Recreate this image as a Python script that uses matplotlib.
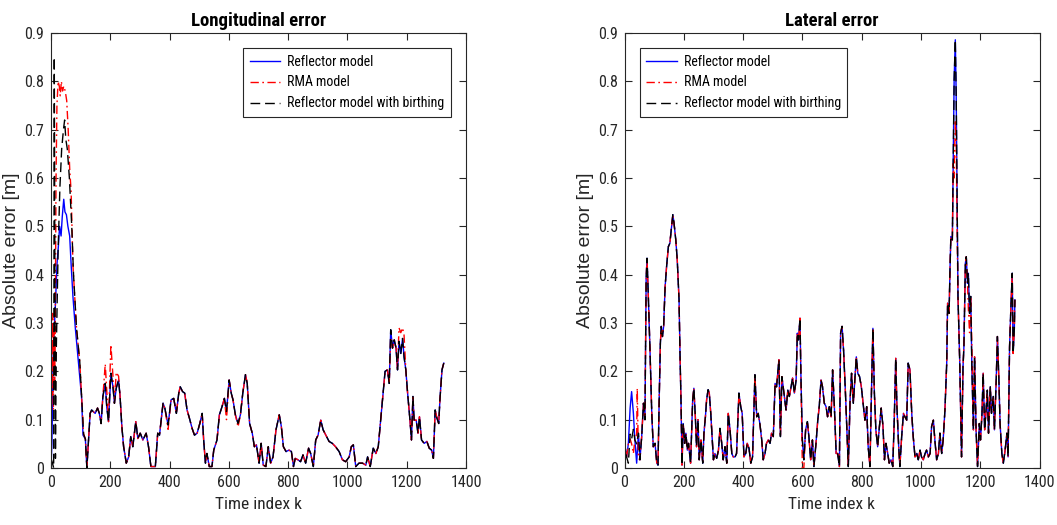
import matplotlib
matplotlib.use("Agg")
import matplotlib.pyplot as plt
from matplotlib import font_manager

# ---------------- data: longitudinal error ----------------
# shared tail (reflector model) from k = 121 on
lon_tail_k = [121, 132, 137, 149, 157, 163, 169, 175, 183, 188, 194, 202, 209, 214, 220, 228, 233, 239, 245, 254,
              262, 269, 276, 286, 293, 301, 310, 321, 329, 337, 352, 360, 366, 378, 384, 395, 405, 414, 423, 431,
              436, 444, 451, 459, 467, 476, 484, 493, 502, 510, 515, 521, 526, 534, 543, 549, 560, 568, 577, 585,
              592, 601, 608, 614, 622, 631, 639, 647, 656, 662, 670, 679, 686, 693, 702, 709, 716, 725, 733, 741,
              749, 759, 770, 777, 784, 793, 803, 811, 818, 824, 833, 842, 850, 859, 869, 876, 885, 893, 901, 910,
              918, 927, 938, 949, 960, 972, 983, 994, 1006, 1013, 1020, 1028, 1039, 1051, 1062, 1068, 1077, 1087,
              1096, 1104, 1113, 1122, 1127, 1135, 1141, 1146, 1152, 1158, 1164, 1169, 1174, 1180, 1186, 1191,
              1197, 1203, 1211, 1216, 1221, 1225, 1232, 1238, 1243, 1250, 1259, 1268, 1276, 1284, 1290, 1296,
              1302, 1308, 1312, 1319, 1325]
lon_tail_v = [0.0, 0.113, 0.12, 0.113, 0.124, 0.113, 0.092, 0.148, 0.175, 0.127, 0.096, 0.196, 0.168, 0.134, 0.165,
              0.182, 0.148, 0.086, 0.044, 0.01, 0.023, 0.065, 0.044, 0.096, 0.061, 0.072, 0.058, 0.072, 0.044, 0.003,
              0.003, 0.072, 0.068, 0.134, 0.124, 0.089, 0.141, 0.144, 0.113, 0.155, 0.168, 0.158, 0.155, 0.12, 0.103,
              0.082, 0.068, 0.072, 0.092, 0.113, 0.058, 0.01, 0.03, 0.003, 0.003, 0.037, 0.058, 0.11, 0.127, 0.144,
              0.117, 0.182, 0.155, 0.141, 0.11, 0.092, 0.11, 0.155, 0.193, 0.175, 0.092, 0.072, 0.044, 0.048, 0.01,
              0.051, 0.006, 0.003, 0.044, 0.01, 0.023, 0.079, 0.11, 0.086, 0.044, 0.034, 0.037, 0.034, 0.003, 0.02,
              0.017, 0.013, 0.027, 0.01, 0.041, 0.03, 0.003, 0.058, 0.068, 0.099, 0.079, 0.068, 0.055, 0.051, 0.044,
              0.034, 0.017, 0.013, 0.023, 0.044, 0.048, 0.003, 0.01, 0.01, 0.006, 0.023, 0.003, 0.041, 0.03, 0.044,
              0.106, 0.168, 0.2, 0.203, 0.175, 0.286, 0.248, 0.265, 0.248, 0.203, 0.262, 0.237, 0.268, 0.23, 0.203,
              0.155, 0.099, 0.058, 0.148, 0.099, 0.099, 0.072, 0.106, 0.058, 0.051, 0.055, 0.041, 0.037, 0.02, 0.12,
              0.103, 0.092, 0.141, 0.203, 0.217]

lon_ref_head_k = [0, 3, 8, 12, 15, 20, 25, 29, 34, 38, 43, 47, 52, 57, 63, 68, 74, 82, 91, 103, 108, 116]
lon_ref_head_v = [0.0, 0.05, 0.25, 0.30, 0.34, 0.42, 0.46, 0.50, 0.48, 0.52, 0.556, 0.53, 0.524, 0.50, 0.48,
                  0.42, 0.355, 0.29, 0.23, 0.148, 0.068, 0.06]

lon_rma_head_k = [0, 2, 4, 6, 8, 10, 12, 14, 17, 20, 24, 28, 31, 35, 39, 43, 48, 53, 58, 63, 68, 74, 86, 97,
                  104, 110, 116]
lon_rma_head_v = [0.02, 0.30, 0.15, 0.32, 0.12, 0.28, 0.18, 0.25, 0.60, 0.75, 0.80, 0.79, 0.77, 0.80, 0.78,
                  0.79, 0.78, 0.76, 0.70, 0.62, 0.57, 0.42, 0.29, 0.22, 0.14, 0.07, 0.06]
lon_rma_diff_k = [183, 188, 202, 209, 220, 228, 395, 592, 631, 1146, 1174, 1180, 1186, 1191, 1221]
lon_rma_diff_v = [0.215, 0.16, 0.255, 0.19, 0.198, 0.19, 0.08, 0.10, 0.085, 0.27, 0.29, 0.28, 0.29, 0.275, 0.15]

lon_birth_head_k = [0, 5, 9, 11, 13, 15, 18, 24, 30, 36, 42, 46, 50, 55, 62, 70, 76, 86, 97, 104, 110, 116]
lon_birth_head_v = [0.02, 0.01, 0.0, 0.85, 0.40, 0.02, 0.25, 0.45, 0.58, 0.66, 0.70, 0.72, 0.68, 0.66, 0.60,
                    0.50, 0.40, 0.29, 0.22, 0.14, 0.07, 0.06]

# ---------------- data: lateral error ----------------
lat_ref_k = [0, 2, 7, 13, 19, 24, 30, 35, 41, 47, 52, 58, 64, 69, 73, 76, 80, 86, 92, 97, 103, 109, 113, 117,
             121, 124, 128, 132, 137, 142, 148, 153, 159, 163, 167, 173, 178, 184, 187, 191, 194, 198, 203, 207,
             212, 216, 223, 230, 234, 239, 243, 248, 252, 258, 264, 268, 273, 277, 282, 286, 291, 295, 300, 305,
             311, 317, 322, 328, 333, 339, 345, 350, 356, 362, 367, 373, 378, 386, 392, 397, 403, 409, 414, 420,
             426, 432, 440, 446, 451, 457, 463, 468, 474, 479, 485, 491, 496, 502, 508, 513, 521, 526, 531, 538,
             545, 551, 556, 562, 567, 573, 579, 583, 587, 592, 595, 600, 605, 611, 617, 622, 628, 634, 639, 646,
             652, 657, 663, 668, 674, 680, 685, 691, 697, 702, 708, 714, 719, 725, 729, 734, 739, 745, 751, 755,
             761, 766, 772, 777, 782, 787, 793, 799, 806, 811, 817, 822, 828, 834, 838, 843, 848, 854, 860, 866,
             872, 877, 882, 888, 893, 899, 905, 910, 915, 919, 925, 929, 935, 941, 946, 952, 957, 963, 969, 974,
             980, 986, 991, 997, 1002, 1008, 1014, 1019, 1025, 1031, 1036, 1042, 1047, 1053, 1059, 1064, 1070,
             1075, 1081, 1087, 1090, 1095, 1098, 1101, 1106, 1109, 1112, 1116, 1119, 1122, 1125, 1131, 1137, 1142,
             1145, 1150, 1153, 1157, 1160, 1164, 1168, 1172, 1177, 1181, 1186, 1191, 1197, 1201, 1206, 1210, 1215,
             1219, 1224, 1228, 1234, 1238, 1244, 1248, 1254, 1258, 1263, 1267, 1273, 1278, 1284, 1290, 1294, 1299,
             1304, 1308, 1311, 1315, 1317]
lat_ref_v = [0.03, 0.044, 0.023, 0.05, 0.124, 0.158, 0.113, 0.058, 0.01, 0.072, 0.017, 0.065, 0.134, 0.10, 0.39,
             0.434, 0.362, 0.244, 0.113, 0.044, 0.051, 0.01, 0.006, 0.141, 0.258, 0.293, 0.272, 0.293, 0.375, 0.417,
             0.458, 0.465, 0.50, 0.524, 0.507, 0.472, 0.43, 0.348, 0.244, 0.127, 0.006, 0.092, 0.051, 0.072, 0.037,
             0.051, 0.01, 0.141, 0.165, 0.106, 0.044, 0.10, 0.017, 0.058, 0.01, 0.072, 0.106, 0.141, 0.162, 0.155,
             0.113, 0.072, 0.017, 0.03, 0.02, 0.037, 0.082, 0.051, 0.017, 0.044, 0.01, 0.113, 0.079, 0.03, 0.023,
             0.023, 0.03, 0.155, 0.127, 0.113, 0.023, 0.03, 0.051, 0.041, 0.01, 0.023, 0.193, 0.106, 0.113, 0.09,
             0.058, 0.017, 0.03, 0.051, 0.058, 0.051, 0.072, 0.065, 0.175, 0.168, 0.224, 0.065, 0.189, 0.155, 0.12,
             0.161, 0.148, 0.168, 0.186, 0.155, 0.182, 0.279, 0.265, 0.31, 0.196, 0.058, 0.017, 0.079, 0.096, 0.065,
             0.017, 0.058, 0.003, 0.051, 0.099, 0.127, 0.182, 0.168, 0.134, 0.127, 0.106, 0.127, 0.106, 0.203, 0.127,
             0.03, 0.03, 0.003, 0.279, 0.293, 0.244, 0.161, 0.065, 0.003, 0.141, 0.196, 0.134, 0.182, 0.23, 0.196,
             0.189, 0.168, 0.127, 0.099, 0.127, 0.044, 0.003, 0.182, 0.289, 0.155, 0.079, 0.044, 0.086, 0.124, 0.086,
             0.017, 0.051, 0.03, 0.01, 0.017, 0.003, 0.099, 0.227, 0.127, 0.044, 0.003, 0.065, 0.113, 0.106, 0.099,
             0.217, 0.203, 0.113, 0.065, 0.023, 0.03, 0.017, 0.037, 0.023, 0.017, 0.03, 0.037, 0.023, 0.03, 0.086,
             0.099, 0.058, 0.017, 0.03, 0.072, 0.03, 0.058, 0.12, 0.217, 0.341, 0.32, 0.41, 0.479, 0.472, 0.63, 0.803,
             0.886, 0.769, 0.562, 0.355, 0.217, 0.023, 0.21, 0.251, 0.424, 0.437, 0.382, 0.403, 0.32, 0.355, 0.203,
             0.079, 0.23, 0.079, 0.003, 0.092, 0.058, 0.113, 0.196, 0.079, 0.113, 0.161, 0.072, 0.168, 0.113, 0.148,
             0.079, 0.182, 0.272, 0.182, 0.092, 0.03, 0.01, 0.037, 0.072, 0.023, 0.251, 0.341, 0.403, 0.237, 0.286,
             0.348]
lat_rma_diff_k = [19, 24, 30, 41, 43, 47, 600, 605, 1112, 1116, 1119, 1122, 1160, 1164, 1172]
lat_rma_diff_v = [0.06, 0.05, 0.03, 0.07, 0.165, 0.02, 0.0, 0.0, 0.60, 0.72, 0.68, 0.50, 0.33, 0.28, 0.25]
lat_birth_diff_k = [13, 19, 24, 30, 41]
lat_birth_diff_v = [0.01, 0.07, 0.06, 0.08, 0.05]

legend_labels = ["Reflector model", "RMA model", "Reflector model with birthing"]
titles = ["Longitudinal error", "Lateral error"]


def merge(base_k, base_v, over_k=(), over_v=()):
    d = dict(zip(base_k, base_v))
    d.update(zip(over_k, over_v))
    ks = sorted(d)
    return ks, [d[k] for k in ks]


lon_ref = merge(lon_ref_head_k + lon_tail_k, lon_ref_head_v + lon_tail_v)
lon_rma = merge(lon_rma_head_k + lon_tail_k, lon_rma_head_v + lon_tail_v, lon_rma_diff_k, lon_rma_diff_v)
lon_birth = merge(lon_birth_head_k + lon_tail_k, lon_birth_head_v + lon_tail_v)
lat_ref = merge(lat_ref_k, lat_ref_v)
lat_rma = merge(lat_ref_k, lat_ref_v, lat_rma_diff_k, lat_rma_diff_v)
lat_birth = merge(lat_ref_k, lat_ref_v, lat_birth_diff_k, lat_birth_diff_v)

# ---------------- fonts ----------------
names = {f.name for f in font_manager.fontManager.ttflist}
narrow_candidates = ["Liberation Sans Narrow", "Roboto Condensed", "Open Sans Condensed", "DejaVu Sans Condensed"]
narrow = next((n for n in narrow_candidates if n in names), "Liberation Sans")
plt.rcParams["font.family"] = [narrow, "DejaVu Sans"]

fig = plt.figure(figsize=(10.57, 5.25), dpi=100)
axes = [fig.add_axes([51 / 1057, 1 - 468 / 525, 415 / 1057, 435 / 525]),
        fig.add_axes([624.5 / 1057, 1 - 468 / 525, 415 / 1057, 435 / 525])]
data = [(lon_ref, lon_rma, lon_birth), (lat_ref, lat_rma, lat_birth)]
edge = "#262626"

for i, ax in enumerate(axes):
    ref, rma, birth = data[i]
    ax.plot(ref[0], ref[1], color="#0000ff", lw=1.0, ls="-", label=legend_labels[0])
    ax.plot(rma[0], rma[1], color="#ff0000", lw=1.0, ls=(0, (6, 2.5, 1.2, 2.5)), label=legend_labels[1])
    ax.plot(birth[0], birth[1], color="black", lw=1.0, ls=(0, (7, 3.5)), label=legend_labels[2])
    ax.set_xlim(0, 1400)
    ax.set_ylim(0, 0.9)
    ax.set_xticks(range(0, 1401, 200))
    ax.set_yticks([j / 10 for j in range(10)])
    ax.set_yticklabels(["0"] + [f"0.{j}" for j in range(1, 10)])
    ax.tick_params(direction="in", top=True, right=True, length=5, width=0.8,
                   labelsize=11.5, colors=edge, pad=5)
    for s in ax.spines.values():
        s.set_color(edge)
        s.set_linewidth(0.8)
    ax.set_title(titles[i], fontsize=13.5, fontweight="bold", pad=5)
    ax.set_xlabel("Time index k", fontsize=12.5, color=edge, labelpad=5)
    ax.set_ylabel("Absolute error [m]", fontsize=14, color=edge, family="Liberation Sans", labelpad=3)
    loc = "upper right" if i == 0 else "upper left"
    leg = ax.legend(loc=loc, fontsize=10, frameon=True, fancybox=False, framealpha=1,
                    edgecolor=edge, handlelength=2.2, borderpad=0.45, labelspacing=0.5,
                    handletextpad=0.5, borderaxespad=1.1)
    leg.get_frame().set_linewidth(0.8)

fig.savefig("out.png", dpi=100)
